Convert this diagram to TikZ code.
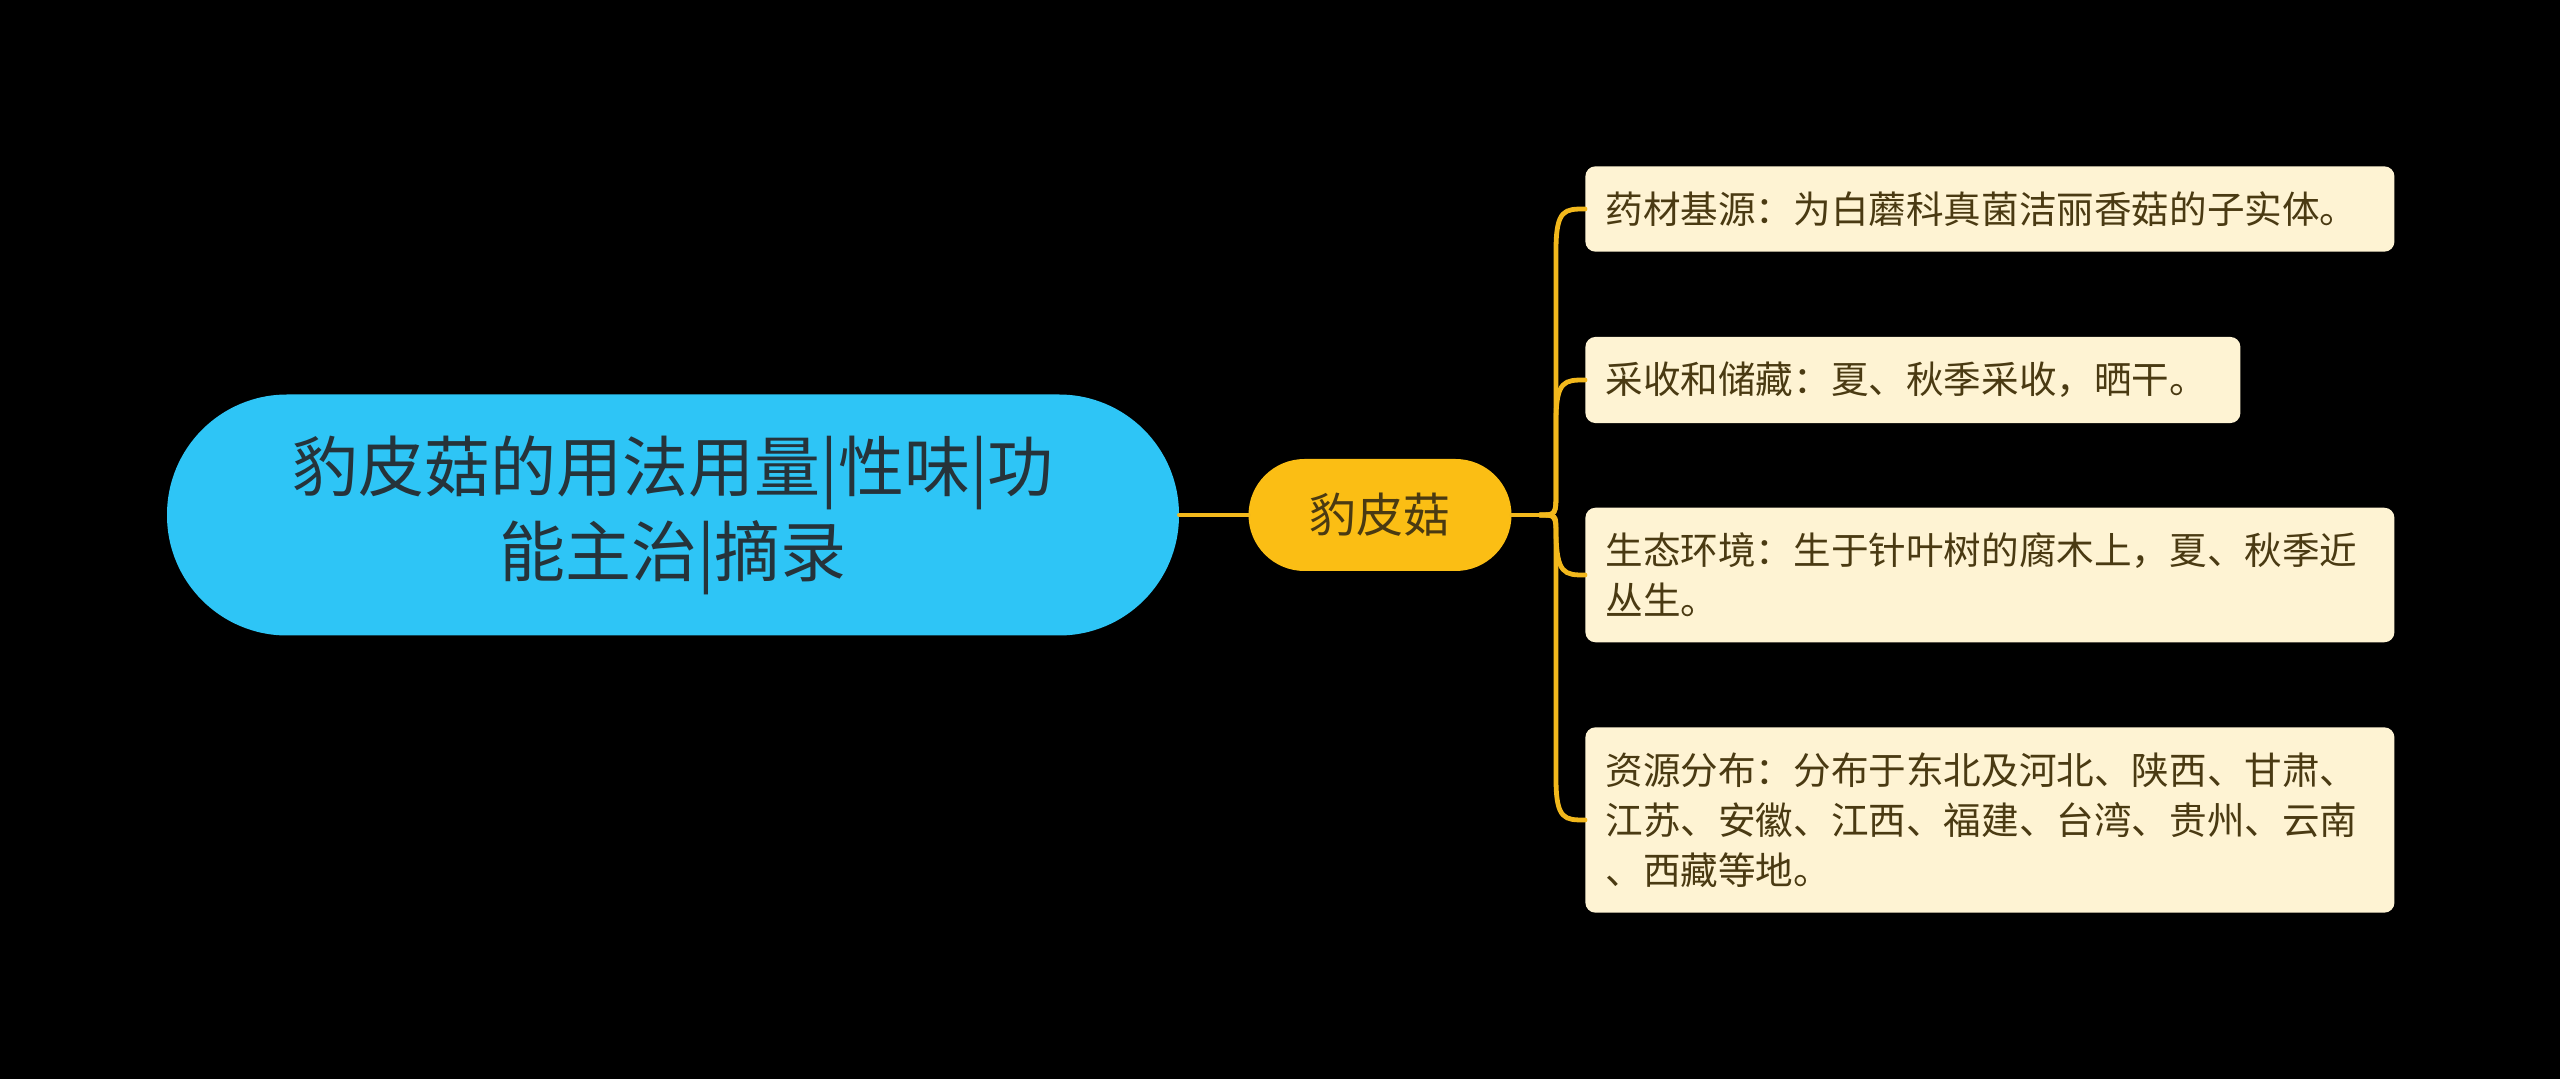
\documentclass[tikz,border=0pt]{standalone}
\usepackage{fontspec}
\newfontfamily\cjk{Noto Sans CJK SC}
\definecolor{rootblue}{HTML}{2EC5F6}
\definecolor{roottext}{HTML}{26333A}
\definecolor{gold}{HTML}{FBBE14}
\definecolor{linegold}{HTML}{F2B81C}
\definecolor{cream}{HTML}{FEF3D3}
\definecolor{brown}{HTML}{4A3A12}
\tikzset{
  rootbox/.style={fill=rootblue, rounded corners=60pt, minimum width=506pt, minimum height=120.5pt,
    align=center, text=roottext, font=\cjk\fontsize{33pt}{42.5pt}\selectfont, inner sep=0pt},
  mainbox/.style={fill=gold, rounded corners=28pt, minimum width=131.5pt, minimum height=56pt,
    text=brown, font=\cjk\fontsize{23.5pt}{28pt}\selectfont, inner sep=0pt},
  leafbox/.style={fill=cream, rounded corners=5pt, anchor=west, align=left, text=brown,
    font=\cjk\fontsize{18.8pt}{25pt}\selectfont, inner xsep=10pt, inner ysep=12.6pt},
  conn/.style={draw=linegold, line width=2.4pt, line cap=round},
}
\begin{document}
\begin{tikzpicture}[x=0.5pt,y=-0.5pt]
\fill[black] (0,0) rectangle (2560,1079);
\useasboundingbox (0,0) rectangle (2560,1079);

\node[rootbox] (root) at (673,515) {豹皮菇的用法用量|性味|功\\能主治|摘录};
\node[mainbox] (main) at (1380,515) {豹皮菇};

\node[leafbox, text width=384.5pt] (c1) at (1585,209) {药材基源：为白蘑科真菌洁丽香菇的子实体。};
\node[leafbox, text width=307.5pt] (c2) at (1585,380) {采收和储藏：夏、秋季采收，晒干。};
\node[leafbox, text width=384.5pt] (c3) at (1585,575) {生态环境：生于针叶树的腐木上，夏、秋季近\\丛生。};
\node[leafbox, text width=384.5pt] (c4) at (1585,820) {资源分布：分布于东北及河北、陕西、甘肃、\\江苏、安徽、江西、福建、台湾、贵州、云南\\、西藏等地。};

\coordinate (F) at (1540,515);
\draw[conn] (root.east) -- (main.west);
\draw[conn] (main.east) -- (F);
\draw[conn] (F) .. controls (1556,515) .. (1556,490) -- (1556,250) .. controls (1556,209) and (1565,209) .. (c1.west);
\draw[conn] (F) .. controls (1556,515) .. (1556,490) -- (1556,421) .. controls (1556,380) and (1565,380) .. (c2.west);
\draw[conn] (F) .. controls (1556,515) .. (1556,530) .. controls (1556,575) and (1565,575) .. (c3.west);
\draw[conn] (F) .. controls (1556,515) .. (1556,540) -- (1556,779) .. controls (1556,820) and (1565,820) .. (c4.west);
\end{tikzpicture}
\end{document}
